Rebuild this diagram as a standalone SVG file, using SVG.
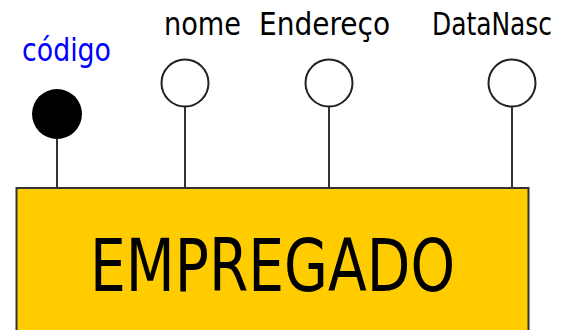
<svg xmlns="http://www.w3.org/2000/svg" width="575" height="330" viewBox="0 0 575 330">
  <style>
    .lbl { font-family: "DejaVu Sans Condensed", "DejaVu Sans", Verdana, sans-serif; font-size: 32px; fill: #000; }
    .key { fill: #0000ff; }
    .attr { fill: #fff; stroke: #222; stroke-width: 2; }
    .conn { stroke: #333; stroke-width: 2; fill: none; }
    .ent { fill: #ffcc00; stroke: #333; stroke-width: 2; }
    .entlbl { font-family: "DejaVu Sans Condensed", "DejaVu Sans", Verdana, sans-serif; font-size: 73px; fill: #000; }
  </style>
  <rect width="575" height="330" fill="#fff"/>
  <g id="connectors">
    <line class="conn" x1="57" y1="139" x2="57" y2="188"/>
    <line class="conn" x1="185" y1="107" x2="185" y2="188"/>
    <line class="conn" x1="329" y1="107" x2="329" y2="188"/>
    <line class="conn" x1="512" y1="107" x2="512" y2="188"/>
  </g>
  <g id="empregado">
    <rect class="ent" x="16.5" y="188" width="512" height="145"/>
    <text class="entlbl" x="90" y="291" textLength="365" lengthAdjust="spacingAndGlyphs">EMPREGADO</text>
  </g>
  <g id="codigo">
    <circle cx="57" cy="114" r="25" fill="#000"/>
    <text class="lbl key" x="22" y="61" textLength="89" lengthAdjust="spacingAndGlyphs">código</text>
  </g>
  <g id="nome">
    <circle class="attr" cx="185" cy="83" r="23.5"/>
    <text class="lbl" x="164" y="35" textLength="77" lengthAdjust="spacingAndGlyphs">nome</text>
  </g>
  <g id="endereco">
    <circle class="attr" cx="329" cy="83" r="23.5"/>
    <text class="lbl" x="259" y="35" textLength="131" lengthAdjust="spacingAndGlyphs">Endereço</text>
  </g>
  <g id="datanasc">
    <circle class="attr" cx="512" cy="83" r="23.5"/>
    <text class="lbl" x="432" y="35" textLength="120" lengthAdjust="spacingAndGlyphs">DataNasc</text>
  </g>
</svg>
